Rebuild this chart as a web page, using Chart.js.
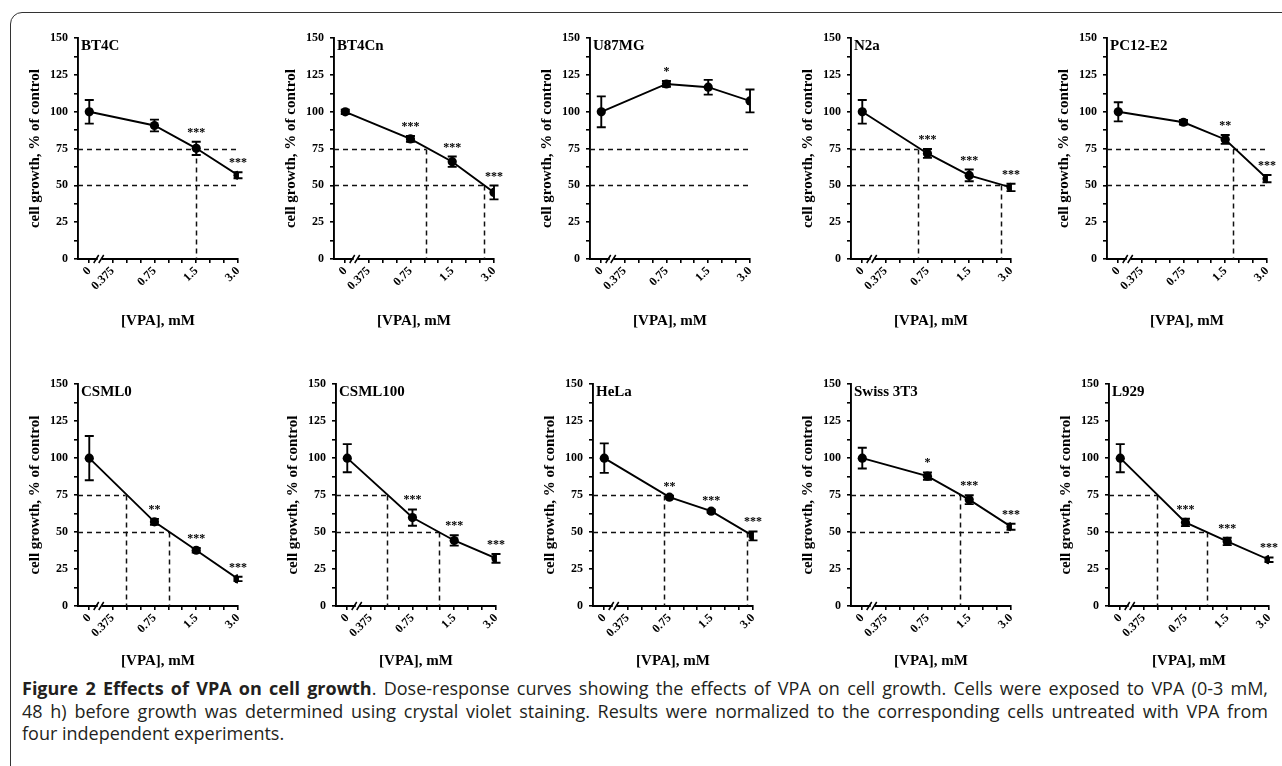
<!DOCTYPE html>
<html><head><meta charset="utf-8">
<script src="https://cdn.jsdelivr.net/npm/chart.js@4.4.1/dist/chart.umd.min.js"></script>
<style>
html,body{margin:0;padding:0;background:#fff;width:1282px;height:766px;overflow:hidden;position:relative;}
#frame{position:absolute;left:10px;top:12px;width:1320px;height:790px;border:1.5px solid #333;border-radius:12px;box-sizing:border-box;}
canvas{position:absolute;}
#caption{position:absolute;left:22px;top:677px;width:1246px;font-family:'Open Sans',sans-serif;font-size:18px;line-height:22.5px;color:#231f20;}
.ln{white-space:nowrap;text-align:justify;text-align-last:justify;}
.ln.last{text-align-last:left;}
</style></head><body>
<div id="frame"></div>
<div id="caption">
<div class="ln"><b>Figure 2 Effects of VPA on cell growth</b>. Dose-response curves showing the effects of VPA on cell growth. Cells were exposed to VPA (0-3 mM,</div>
<div class="ln">48 h) before growth was determined using crystal violet staining. Results were normalized to the corresponding cells untreated with VPA from</div>
<div class="ln last">four independent experiments.</div>
</div>
<script>
// ---------- DATA ----------
const panelNames = ['BT4C','BT4Cn','U87MG','N2a','PC12-E2','CSML0','CSML100','HeLa','Swiss 3T3','L929'];
const axisDoses = [0, 0.375, 0.75, 1.5, 3.0];          // x tick doses (mM)
const doseLabels = ['0','0.375','0.75','1.5','3.0'];   // x tick labels
const measuredDoses = [0, 0.75, 1.5, 3.0];             // doses with data
const yTickValues = [0, 25, 50, 75, 100, 125, 150];
const guideLevels = [75, 50];

const growth_BT4C = [100, 90.7, 75.2, 56.9];   const err_BT4C = [8, 4, 4.5, 2];     const stars_BT4C = ['', '', '***', '***'];
const growth_BT4Cn = [100, 81.6, 66.1, 45.2];  const err_BT4Cn = [1.5, 2, 3.5, 4.7]; const stars_BT4Cn = ['', '***', '***', '***'];
const growth_U87MG = [100, 118.9, 116.7, 107.4]; const err_U87MG = [10.5, 2, 5, 7.8]; const stars_U87MG = ['', '*', '', ''];
const growth_N2a = [100, 71.7, 56.8, 48.6];    const err_N2a = [8, 3, 4, 2.5];      const stars_N2a = ['', '***', '***', '***'];
const growth_PC12 = [100, 92.9, 81.2, 54.6];   const err_PC12 = [6.5, 1.5, 3, 2.5]; const stars_PC12 = ['', '', '**', '***'];
const growth_CSML0 = [100, 56.9, 37.7, 18.3];  const err_CSML0 = [15, 2, 1.5, 1.5]; const stars_CSML0 = ['', '**', '***', '***'];
const growth_CSML100 = [100, 59.8, 44.3, 32.2]; const err_CSML100 = [9.5, 5.5, 3.5, 3]; const stars_CSML100 = ['', '***', '***', '***'];
const growth_HeLa = [100, 73.6, 64.1, 47.4];   const err_HeLa = [10, 1, 1, 3];      const stars_HeLa = ['', '**', '***', '***'];
const growth_Swiss = [100, 87.8, 71.9, 53.6];  const err_Swiss = [7, 2.5, 3, 2];    const stars_Swiss = ['', '*', '***', '***'];
const growth_L929 = [100, 56.5, 43.7, 31.3];   const err_L929 = [9.5, 2.5, 2.5, 1.5]; const stars_L929 = ['', '***', '***', '***'];

// doses (mM) where the curve crosses 75 % and 50 % (null = none drawn)
const ic75Dose = [1.5, 0.975, null, 0.64, 1.70, 0.465, 0.495, 0.68, 1.29, 0.467];
const ic50Dose = [null, 2.56, null, 2.54, null, 0.956, 1.17, 2.70, null, 1.075];
// whether the horizontal guide stops at the crossing
const stop75 = [false, true, false, true, false, true, true, true, true, true];
const stop50 = [false, true, false, false, false, true, true, false, false, true];

const growthSets = [growth_BT4C, growth_BT4Cn, growth_U87MG, growth_N2a, growth_PC12, growth_CSML0, growth_CSML100, growth_HeLa, growth_Swiss, growth_L929];
const errSets = [err_BT4C, err_BT4Cn, err_U87MG, err_N2a, err_PC12, err_CSML0, err_CSML100, err_HeLa, err_Swiss, err_L929];
const starSets = [stars_BT4C, stars_BT4Cn, stars_U87MG, stars_N2a, stars_PC12, stars_CSML0, stars_CSML100, stars_HeLa, stars_Swiss, stars_L929];

// ---------- AXIS TRANSFORM (log2 axis with a break for the zero dose) ----------
const ZERO_POS = -0.56, X_MIN = -0.83, X_MAX = 3.0, BREAK_POS = -0.31;
function pos(d){ return d === 0 ? ZERO_POS : Math.log2(d / 0.375); }
const majorPos = axisDoses.map(pos);
const minorPos = [];
for (let k = 1; k < majorPos.length - 1; k++) {
  const a = majorPos[k], b = majorPos[k+1];
  minorPos.push(a + (b-a)/3, a + 2*(b-a)/3);
}
const xTickPos = majorPos.concat(minorPos).sort((a,b)=>a-b);

// ---------- LAYOUT ----------
const TOP_AXIS_X = [78, 334, 590, 851, 1107];
const BOT_AXIS_X = [78, 336, 593, 851, 1109];
const SERIF = "'Liberation Serif', 'Times New Roman', serif";

function makeOverlay(i){
  const growth = growthSets[i], err = errSets[i], stars = starSets[i];
  return {
    id: 'overlay' + i,
    beforeDatasetsDraw(chart){
      const {ctx, chartArea: a, scales: {x, y}} = chart;
      ctx.save();
      ctx.setLineDash([5, 4]); ctx.lineWidth = 1.5; ctx.strokeStyle = '#111';
      const ics = [ic75Dose[i], ic50Dose[i]], stops = [stop75[i], stop50[i]];
      guideLevels.forEach((lvl, k) => {
        const yy = Math.round(y.getPixelForValue(lvl)) + 0.5;
        const ic = ics[k];
        const xe = (ic != null && stops[k]) ? x.getPixelForValue(pos(ic)) : a.right;
        ctx.beginPath(); ctx.moveTo(a.left, yy); ctx.lineTo(xe, yy); ctx.stroke();
        if (ic != null) {
          const xi = Math.round(x.getPixelForValue(pos(ic))) + 0.5;
          ctx.beginPath(); ctx.moveTo(xi, yy); ctx.lineTo(xi, a.bottom); ctx.stroke();
        }
      });
      ctx.restore();
    },
    afterDatasetsDraw(chart){
      const {ctx, chartArea: a, scales: {x, y}} = chart;
      ctx.save();
      ctx.strokeStyle = '#000'; ctx.fillStyle = '#000'; ctx.lineWidth = 1.9;
      measuredDoses.forEach((d, k) => {
        const px = x.getPixelForValue(pos(d));
        const yt = y.getPixelForValue(growth[k] + err[k]);
        const yb = y.getPixelForValue(growth[k] - err[k]);
        ctx.beginPath();
        ctx.moveTo(px, yt); ctx.lineTo(px, yb);
        ctx.moveTo(px - 4.5, yt); ctx.lineTo(px + 4.5, yt);
        ctx.moveTo(px - 4.5, yb); ctx.lineTo(px + 4.5, yb);
        ctx.stroke();
        if (stars[k]) {
          ctx.font = 'bold 12px ' + SERIF;
          ctx.textAlign = 'center'; ctx.textBaseline = 'alphabetic';
          ctx.fillText(stars[k], px, yt - 6);
        }
      });
      ctx.font = 'bold 15px ' + SERIF;
      ctx.textAlign = 'left'; ctx.textBaseline = 'alphabetic';
      ctx.fillText(panelNames[i], a.left + 3, a.top + 12);
      ctx.restore();
    },
    afterDraw(chart){
      const {ctx, chartArea: a, scales: {x}} = chart;
      const cx = x.getPixelForValue(BREAK_POS), yy = a.bottom;
      ctx.save();
      ctx.fillStyle = '#fff';
      ctx.fillRect(cx - 2, yy - 2, 4, 4);
      ctx.strokeStyle = '#000'; ctx.lineWidth = 1.5;
      ctx.beginPath();
      ctx.moveTo(cx - 6, yy + 4); ctx.lineTo(cx - 1, yy - 4);
      ctx.moveTo(cx - 1, yy + 4); ctx.lineTo(cx + 4, yy - 4);
      ctx.stroke();
      ctx.restore();
    }
  };
}

function makePanel(i){
  const row = i < 5 ? 0 : 1;
  const axisX = row === 0 ? TOP_AXIS_X[i] : BOT_AXIS_X[i-5];
  const yTop = row === 0 ? 33 : 379;
  const plotH = row === 0 ? 226 : 227;
  const xScaleH = row === 0 ? 71 : 64;
  const PAD_T = 8, Y_W = 52, PLOT_W = 160, PAD_R = 22;
  const cv = document.createElement('canvas');
  cv.width = Y_W + PLOT_W + PAD_R; cv.height = PAD_T + plotH + xScaleH;
  cv.style.left = (axisX - Y_W) + 'px'; cv.style.top = (yTop - PAD_T) + 'px';
  cv.style.width = cv.width + 'px'; cv.style.height = cv.height + 'px';
  document.body.appendChild(cv);

  const pts = measuredDoses.map((d, k) => ({x: pos(d), y: growthSets[i][k]}));
  new Chart(cv, {
    type: 'line',
    data: { datasets: [{ data: pts, borderColor: '#000', borderWidth: 1.9, pointRadius: 4.6,
      pointBackgroundColor: '#000', pointBorderColor: '#000', pointBorderWidth: 0, tension: 0, fill: false }] },
    options: {
      responsive: false, animation: false, devicePixelRatio: 1,
      layout: { padding: { top: PAD_T, right: PAD_R, left: 0, bottom: 0 } },
      plugins: { legend: { display: false }, tooltip: { enabled: false } },
      scales: {
        x: {
          type: 'linear', min: X_MIN, max: X_MAX,
          afterBuildTicks: s => { s.ticks = xTickPos.map(v => ({value: v})); },
          afterFit: s => { s.height = xScaleH; },
          border: { display: true, color: '#000', width: 1.9 },
          grid: { drawOnChartArea: false, drawTicks: true, tickLength: 4, color: '#000', lineWidth: 1.6 },
          ticks: {
            autoSkip: false, minRotation: 45, maxRotation: 45, padding: 1, color: '#000',
            font: { family: SERIF, size: 12, weight: 'bold' },
            callback: v => { const k = majorPos.findIndex(m => Math.abs(m - v) < 1e-6); return k >= 0 ? doseLabels[k] : ''; }
          },
          title: { display: true, text: '[VPA], mM', color: '#000', padding: 0,
            font: { family: SERIF, size: 15, weight: 'bold' } }
        },
        y: {
          min: 0, max: 150,
          afterBuildTicks: s => { const t = []; for (let v = 0; v <= 150; v += 12.5) t.push({value: v}); s.ticks = t; },
          afterFit: s => { s.width = Y_W; },
          border: { display: true, color: '#000', width: 1.9 },
          grid: { drawOnChartArea: false, drawTicks: true, tickLength: 4, color: '#000', lineWidth: 1.6 },
          ticks: { autoSkip: false, padding: 6, color: '#000',
            font: { family: SERIF, size: 12, weight: 'bold' },
            callback: v => yTickValues.includes(v) ? String(v) : '' },
          title: { display: true, text: 'cell growth, % of control', color: '#000', padding: 0,
            font: { family: SERIF, size: 15, weight: 'bold' } }
        }
      }
    },
    plugins: [makeOverlay(i)]
  });
}
for (let i = 0; i < panelNames.length; i++) makePanel(i);
</script>
</body></html>
